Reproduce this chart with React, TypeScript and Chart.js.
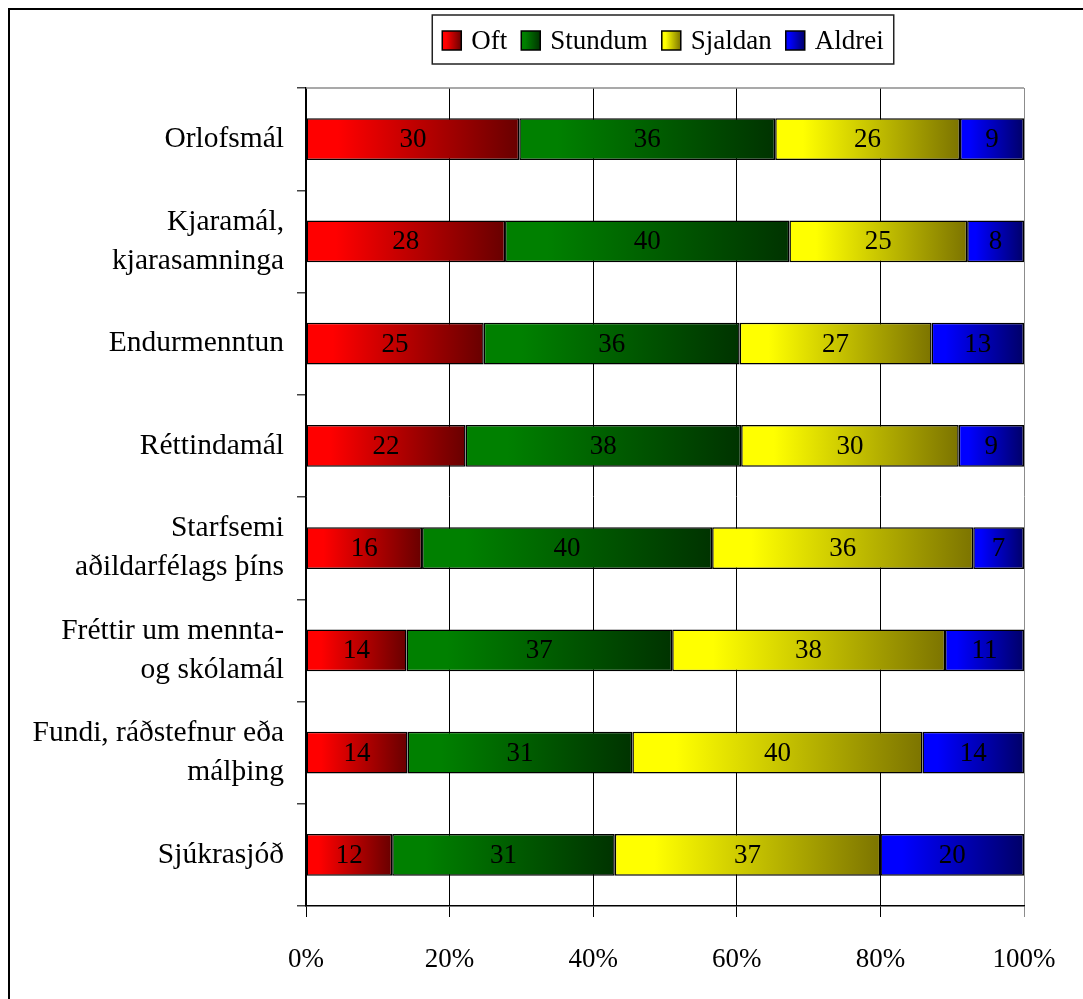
import React, { useEffect, useRef } from "react";
import { Chart, registerables } from "chart.js";

Chart.register(...registerables);

const categories: string[][] = [
  ["Orlofsmál"],
  ["Kjaramál,", "kjarasamninga"],
  ["Endurmenntun"],
  ["Réttindamál"],
  ["Starfsemi", "aðildarfélags þíns"],
  ["Fréttir um mennta-", "og skólamál"],
  ["Fundi, ráðstefnur eða", "málþing"],
  ["Sjúkrasjóð"],
];

const seriesNames = ["Oft", "Stundum", "Sjaldan", "Aldrei"];
const oft = [30, 28, 25, 22, 16, 14, 14, 12];
const stundum = [36, 40, 36, 38, 40, 37, 31, 31];
const sjaldan = [26, 25, 27, 30, 36, 38, 40, 37];
const aldrei = [9, 8, 13, 9, 7, 11, 14, 20];

const xTicks = [0, 20, 40, 60, 80, 100];

const gradStart = ["#ff0000", "#008000", "#ffff00", "#0000ff"];
const gradEnd = ["#680000", "#003300", "#7c7400", "#000068"];

const FONT = "'Liberation Serif', 'Times New Roman', serif";

export default function App() {
  const ref = useRef<HTMLCanvasElement | null>(null);

  useEffect(() => {
    const canvas = ref.current;
    if (!canvas) return;
    const raw = [oft, stundum, sjaldan, aldrei];
    const totals = categories.map((_, i) => raw.reduce((s, arr) => s + arr[i], 0));
    const pct = raw.map((arr) => arr.map((v, i) => (v / totals[i]) * 100));

    const makeBg = (d: number) => (ctx: any) => {
      if (ctx.type !== "data") return gradStart[d];
      const chart = ctx.chart;
      const xs = chart.scales && chart.scales.x;
      if (!xs || !chart.chartArea) return gradStart[d];
      const i = ctx.dataIndex;
      let start = 0;
      for (let k = 0; k < d; k++) start += pct[k][i];
      const x0 = xs.getPixelForValue(start);
      const x1 = xs.getPixelForValue(start + pct[d][i]);
      const g = chart.ctx.createLinearGradient(x0, 0, x1, 0);
      g.addColorStop(0, gradStart[d]);
      g.addColorStop(0.15, gradStart[d]);
      g.addColorStop(1, gradEnd[d]);
      return g;
    };

    const valueLabels = {
      id: "valueLabels",
      afterDatasetsDraw(chart: any) {
        const c = chart.ctx;
        c.save();
        c.font = `27px ${FONT}`;
        c.fillStyle = "#000";
        c.textAlign = "center";
        c.textBaseline = "middle";
        chart.data.datasets.forEach((ds: any, d: number) => {
          const meta = chart.getDatasetMeta(d);
          meta.data.forEach((el: any, i: number) => {
            const x = (el.x + el.base) / 2;
            c.fillText(String(raw[d][i]), x, el.y + 1);
          });
        });
        c.restore();
      },
    };

    const frameAndLegend = {
      id: "frameAndLegend",
      afterDraw(chart: any) {
        const c = chart.ctx;
        const a = chart.chartArea;
        c.save();
        c.strokeStyle = "#8c8c8c";
        c.lineWidth = 1.5;
        c.beginPath();
        c.moveTo(a.left, a.top);
        c.lineTo(a.right, a.top);
        c.stroke();

        c.font = `27px ${FONT}`;
        const marker = 19;
        const gap = 10;
        const spacing = 14;
        const pad = 10;
        const widths = seriesNames.map((n) => c.measureText(n).width);
        const inner =
          widths.reduce((s, w) => s + marker + gap + w, 0) + spacing * (seriesNames.length - 1);
        const boxW = inner + pad * 2;
        const cx = 653;
        const boxL = cx - boxW / 2;
        const boxT = 5;
        const boxH = 49;
        c.strokeStyle = "#222";
        c.lineWidth = 1.5;
        c.strokeRect(boxL, boxT, boxW, boxH);
        let x = boxL + pad;
        const my = 21;
        c.textBaseline = "middle";
        c.textAlign = "left";
        seriesNames.forEach((n, d) => {
          const g = c.createLinearGradient(x, 0, x + marker, 0);
          g.addColorStop(0, gradStart[d]);
          g.addColorStop(0.2, gradStart[d]);
          g.addColorStop(1, gradEnd[d]);
          c.fillStyle = g;
          c.fillRect(x, my, marker, marker);
          c.strokeStyle = "#000";
          c.lineWidth = 1.5;
          c.strokeRect(x, my, marker, marker);
          c.fillStyle = "#000";
          c.fillText(n, x + marker + gap, my + marker / 2 + 1);
          x += marker + gap + widths[d] + spacing;
        });
        c.restore();
      },
    };

    const chart = new Chart(canvas, {
      type: "bar",
      data: {
        labels: categories,
        datasets: seriesNames.map((name, d) => ({
          label: name,
          data: pct[d],
          backgroundColor: makeBg(d),
          borderColor: "#000",
          borderWidth: 1.5,
          borderSkipped: false,
          barPercentage: 0.41,
          categoryPercentage: 1,
        })),
      },
      options: {
        indexAxis: "y",
        animation: false,
        responsive: false,
        maintainAspectRatio: false,
        layout: { padding: { top: 78, right: 59, bottom: 0, left: 0 } },
        plugins: {
          legend: { display: false },
          tooltip: { enabled: false },
          title: { display: false },
        },
        scales: {
          x: {
            stacked: true,
            min: 0,
            max: 100,
            afterFit: (s: any) => {
              s.height = 93;
            },
            afterBuildTicks: (s: any) => {
              s.ticks = xTicks.map((v) => ({ value: v }));
            },
            ticks: {
              callback: (v: any) => `${v}%`,
              color: "#000",
              font: { family: FONT, size: 27 },
              padding: 27,
              maxRotation: 0,
            },
            grid: {
              color: (ctx: any) => (ctx.index === 5 ? "#8c8c8c" : "#000"),
              lineWidth: 1,
              tickLength: 11,
              drawTicks: true,
            },
            border: { display: true, color: "#000", width: 1.5 },
          },
          y: {
            stacked: true,
            afterFit: (s: any) => {
              s.width = 296;
            },
            ticks: {
              color: "#000",
              font: { family: FONT, size: 29.5, lineHeight: 1.32 },
              padding: 13,
            },
            grid: {
              drawOnChartArea: false,
              drawTicks: true,
              tickLength: 9,
              color: "#444",
              lineWidth: 1.5,
              offset: true,
            },
            border: { display: true, color: "#000", width: 1.5 },
          },
        },
      } as any,
      plugins: [valueLabels, frameAndLegend],
    });
    return () => chart.destroy();
  }, []);

  return (
    <div
      style={{
        position: "fixed",
        left: 8,
        top: 8,
        width: 1073,
        height: 989,
        borderTop: "2px solid #000",
        borderLeft: "2px solid #000",
        background: "#fff",
        overflow: "hidden",
      }}
    >
      <canvas ref={ref} width={1073} height={989} style={{ display: "block", width: 1073, height: 989 }} />
    </div>
  );
}
